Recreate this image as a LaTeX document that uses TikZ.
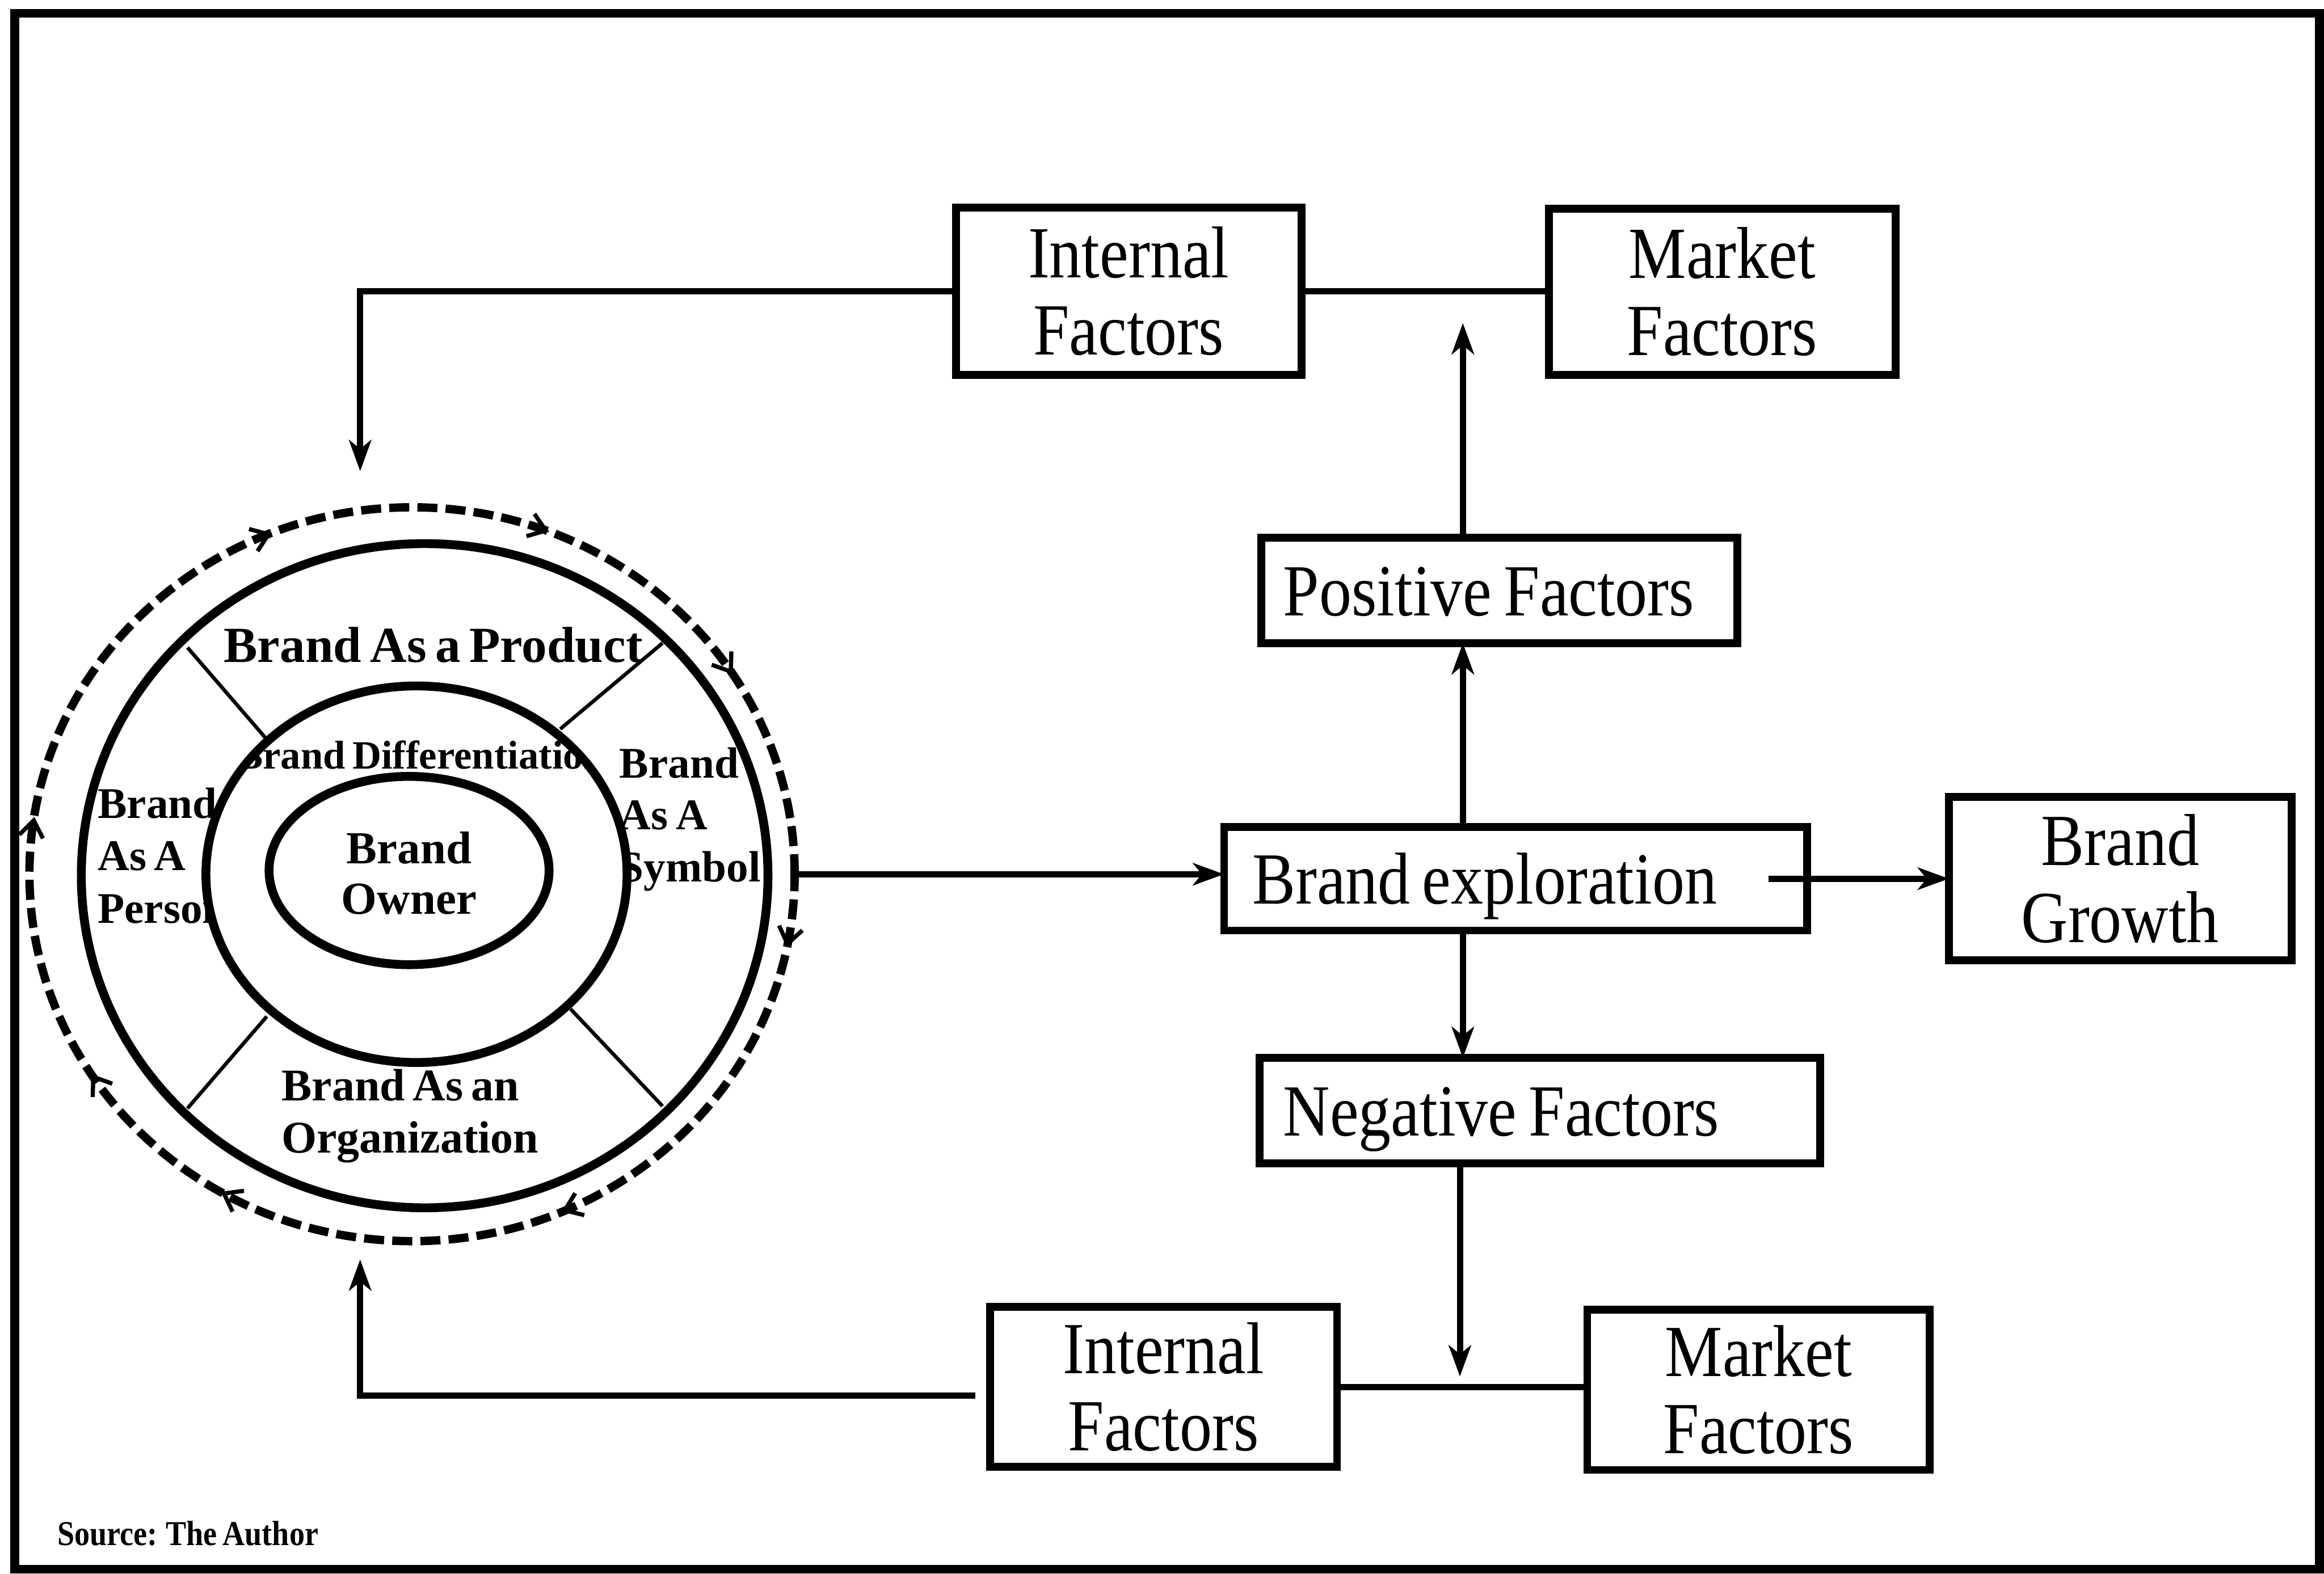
\documentclass[tikz,border=0pt]{standalone}
\usepackage{fontspec}
\setmainfont{Liberation Serif}[WordSpace=0.7]
\newfontfamily\boxfont{Liberation Serif}[FakeStretch=0.88,WordSpace=0.75]
\usetikzlibrary{arrows.meta}

\begin{document}
\begin{tikzpicture}[x=0.01cm,y=-0.01cm,
  frame/.style={line width=1.7pt},
  fbox/.style={draw,line width=1.5pt,rectangle,inner sep=0pt,outer sep=0pt,
    font=\boxfont\fontsize{14.1}{14.8}\selectfont},
  onebox/.style={fbox,text height=3.4mm,text depth=0pt,align=flush left},
  twobox/.style={fbox,align=center},
  conn/.style={line width=1.2pt},
  arr/.style={conn,-{Stealth[length=2.1mm,width=1.5mm,inset=0.6mm]}},
  ring/.style={line width=1.7pt},
  spoke/.style={line width=0.7pt},
  lbl/.style={inner sep=0pt,outer sep=0pt,font=\bfseries\fontsize{8.4}{10}\selectfont},
  flowtip/.style={line width=0.8pt,-{Straight Barb[length=1.1mm,width=1.6mm]}},
]
\useasboundingbox (0,0) rectangle (1568,1062);
\draw[frame] (10,9) rectangle (1565,1059);

% ---------- boxes ----------
\node[twobox, minimum width=2.33cm, minimum height=1.13cm] (intTop) at (761.5,196.5) {Internal\\Factors};
\node[twobox, minimum width=2.34cm, minimum height=1.12cm] (mktTop) at (1162,197) {Market\\Factors};
\node[onebox, minimum width=3.21cm, minimum height=0.71cm, text width=2.91cm, inner xsep=0.15cm] (pos) at (1011.5,398.5) {Positive Factors};
\node[onebox, minimum width=3.93cm, minimum height=0.70cm, text width=3.55cm, inner xsep=0.19cm] (bexp) at (1022.5,593) {Brand exploration};
\node[twobox, minimum width=2.31cm, minimum height=1.10cm] (bgrow) at (1430.5,593) {Brand\\Growth};
\node[onebox, minimum width=3.78cm, minimum height=0.71cm, text width=3.46cm, inner xsep=0.16cm] (neg) at (1039,749.5) {Negative Factors};
\node[twobox, minimum width=2.34cm, minimum height=1.08cm] (intBot) at (785,936) {Internal\\Factors};
\node[twobox, minimum width=2.31cm, minimum height=1.08cm] (mktBot) at (1186.5,938) {Market\\Factors};

% ---------- connector end points ----------
\coordinate (topIn) at (243,318);
\coordinate (botIn) at (243,850);
\coordinate (upTip) at (987,218);
\coordinate (dnTip) at (985,929);
\coordinate (ringE) at (536,590);

% ---------- connectors ----------
\draw[arr] (intTop.west) -| (topIn);
\draw[conn] (intTop.east) -- (mktTop.west |- intTop.east);
\draw[arr] (pos.north -| upTip) -- (upTip);
\draw[arr] (bexp.north -| upTip) -- (pos.south -| upTip);
\draw[arr] (bexp.south -| upTip) -- (neg.north -| upTip);
\draw[arr] (neg.south -| dnTip) -- (dnTip);
\draw[conn] (intBot.east) -- (mktBot.west |- intBot.east);
\draw[arr] ([xshift=-0.1cm,yshift=-0.06cm]intBot.west) -| (botIn);
\draw[arr] (ringE) -- (ringE -| bexp.west);
\draw[arr] ([xshift=-0.26cm]bexp.east) -- (bgrow.west);

% ---------- brand wheel: ring labels ----------
\node[lbl, anchor=base west, font=\bfseries\fontsize{9.7}{11}\selectfont] (prod) at (151,447) {Brand As a Product};
\node[lbl, anchor=base west] (perA) at (66,552) {Brand};
\node[lbl, anchor=base west] (perB) at (66,587.5) {As A};
\node[lbl, anchor=base west] (perC) at (66,623) {Person};
\begin{scope}
  \clip (286.5,591) ellipse [x radius=2.28cm, y radius=2.205cm];
  \node[lbl, anchor=base west] (symA) at (418,525) {Brand};
  \node[lbl, anchor=base west] (symB) at (418,560) {As A};
  \node[lbl, anchor=base west] (symC) at (418,595) {Symbol};
\end{scope}
\node[lbl, anchor=base west, font=\bfseries\fontsize{8.7}{10}\selectfont] (orgA) at (190,743) {Brand As an};
\node[lbl, anchor=base west, font=\bfseries\fontsize{8.7}{10}\selectfont] (orgB) at (190,778) {Organization};

% outer ring and its four dividers
\draw[ring] (286.5,591) ellipse [x radius=2.315cm, y radius=2.24cm];
\draw[spoke] (126.5,437) -- (180,499);
\draw[spoke] (447,434) -- (378,492);
\draw[spoke] (126.5,748) -- (180,686);
\draw[spoke] (447,746.5) -- (385,681);

% middle ring
\fill[white] (281,590) ellipse [x radius=1.42cm, y radius=1.27cm];
\begin{scope}
  \clip (281,590) ellipse [x radius=1.425cm, y radius=1.275cm];
  \node[lbl, anchor=base, font=\bfseries\fontsize{7.7}{9}\selectfont] (diff) at (284,519) {Brand Differentiation};
\end{scope}
\draw[ring] (281,590) ellipse [x radius=1.42cm, y radius=1.27cm];

% core
\draw[ring] (276,587.5) ellipse [x radius=0.944cm, y radius=0.635cm];
\node[lbl, anchor=base, font=\bfseries\fontsize{8.8}{10}\selectfont] (ownA) at (276,583) {Brand};
\node[lbl, anchor=base, font=\bfseries\fontsize{8.8}{10}\selectfont] (ownB) at (276,617) {Owner};

% dashed cycle around the wheel
\draw[ring, line width=1.6pt, dash pattern=on 1.35mm off 0.55mm]
  (278,590) ellipse [x radius=2.58cm, y radius=2.475cm];

% clockwise heads on the dashed cycle
\draw[flowtip] (178.7,361.5) -- (183.4,359.7);
\draw[flowtip] (365.8,357.2) -- (370.5,358.9);
\draw[flowtip] (491.6,451.1) -- (494.4,455.2);
\draw[flowtip] (531.8,634.5) -- (530.8,639.4);
\draw[flowtip] (383.4,815.9) -- (378.8,817.8);
\draw[flowtip] (153.4,806.7) -- (149.0,804.3);
\draw[flowtip] (64.4,728.9) -- (61.6,724.8);
\draw[flowtip] (22.4,556.2) -- (23.2,551.3);

% source line
\node[inner sep=0pt, anchor=base west, font=\boxfont\bfseries\fontsize{6.7}{8}\selectfont] (src) at (38,1043) {Source: The Author};
\end{tikzpicture}
\end{document}
